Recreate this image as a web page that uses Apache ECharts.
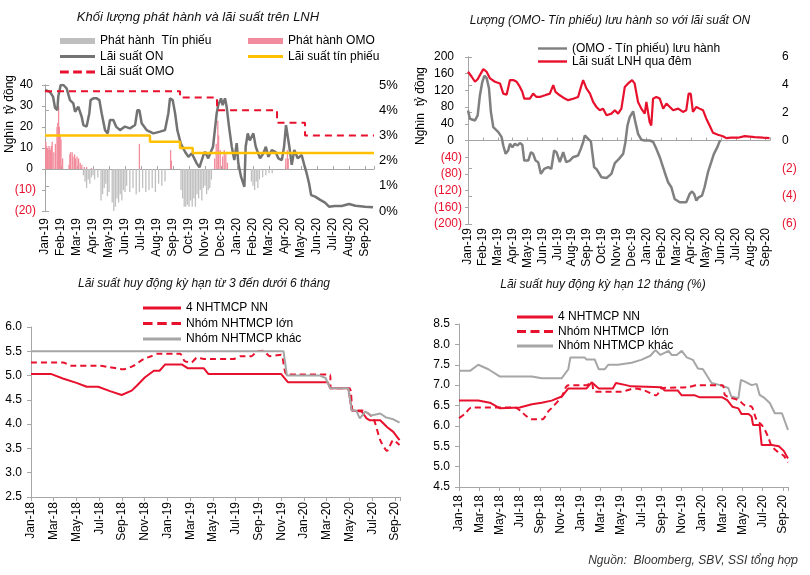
<!DOCTYPE html>
<html><head><meta charset="utf-8">
<script src="https://cdn.jsdelivr.net/npm/echarts/dist/echarts.min.js"></script>
<style>html,body{margin:0;padding:0;background:#fff}#c{width:810px;height:575px}</style>
</head><body><div id="c"></div><script>
// ---------- tick labels ----------
var months19 = ['Jan-19','Feb-19','Mar-19','Apr-19','May-19','Jun-19','Jul-19','Aug-19','Sep-19','Oct-19','Nov-19','Dec-19','Jan-20','Feb-20','Mar-20','Apr-20','May-20','Jun-20','Jul-20','Aug-20','Sep-20'];
var months18 = ['Jan-18','Feb-18','Mar-18','Apr-18','May-18','Jun-18','Jul-18','Aug-18','Sep-18','Oct-18','Nov-18','Dec-18','Jan-19','Feb-19','Mar-19','Apr-19','May-19','Jun-19','Jul-19','Aug-19','Sep-19','Oct-19','Nov-19','Dec-19','Jan-20','Feb-20','Mar-20','Apr-20','May-20','Jun-20','Jul-20','Aug-20','Sep-20'];

// ---------- panel 1 (x = months since Jan-19) ----------
var omoIssue = [[0.05,13],[0.1,11],[0.15,10],[0.2,9],[0.25,11],[0.3,10],[0.35,9],[0.4,11],[0.45,13],[0.55,8],[0.65,12],[0.75,20],[0.8,22],[0.85,30],[0.9,20],[0.95,16],[1.0,14],[1.1,5],[1.5,2],[1.55,7],[1.6,8],[1.7,8],[1.75,6],[1.85,7],[1.9,5],[2.0,6],[2.1,5],[2.2,3],[2.3,2],[2.45,1],[2.6,1],[2.9,0.5],[5.9,12],[7.85,9],[7.9,4],[10.6,5],[10.7,12],[10.8,23],[10.85,16],[10.95,9],[11.1,6],[11.2,9],[11.3,7],[11.4,3],[15.05,5],[15.15,9],[15.2,5]];
var billIssue = [[2.4,-3],[2.5,-6],[2.6,-9],[2.7,-5],[2.8,-7],[2.9,-4],[3.0,-3],[3.1,-5],[3.3,-4],[3.5,-15],[3.6,-12],[3.7,-9],[3.8,-7],[3.9,-13],[4.0,-11],[4.2,-16],[4.3,-20],[4.4,-18],[4.5,-14],[4.6,-16],[4.7,-12],[4.8,-15],[4.9,-10],[5.0,-11],[5.1,-8],[5.3,-11],[5.5,-9],[5.7,-12],[5.9,-11],[6.1,-9],[6.3,-11],[6.5,-10],[6.7,-9],[6.9,-11],[7.1,-7],[7.3,-8],[7.5,-6],[8.5,-10],[8.6,-14],[8.7,-18],[8.8,-18],[8.9,-17],[9.0,-18],[9.1,-15],[9.2,-18],[9.3,-14],[9.4,-18],[9.5,-12],[9.6,-14],[9.7,-10],[9.8,-15],[9.9,-9],[10.0,-8],[10.1,-12],[10.2,-10],[10.3,-9],[10.4,-5],[12.9,-6],[13.0,-8],[13.1,-10],[13.2,-6],[13.3,-9],[13.4,-5],[13.6,-4],[13.8,-3],[14.0,-2],[14.2,-2]];
var onRate1 = [[0,4.8],[0.06,4.8],[0.3,4.73],[0.5,4.54],[0.63,4.09],[0.77,4.0],[0.83,4.54],[0.98,5.0],[1.15,5.0],[1.35,4.87],[1.56,4.4],[1.77,4.27],[1.88,3.94],[2.08,4.14],[2.29,3.74],[2.4,3.41],[2.6,3.35],[2.77,3.88],[2.85,4.4],[3.02,4.47],[3.23,4.47],[3.4,4.4],[3.54,3.88],[3.75,3.21],[3.92,3.08],[4.06,3.61],[4.27,3.61],[4.44,3.35],[4.69,3.21],[5.0,3.35],[5.31,3.28],[5.63,3.41],[5.77,4.0],[5.9,4.0],[6.04,3.48],[6.35,3.21],[6.77,3.08],[7.19,3.15],[7.5,3.21],[7.71,3.88],[7.81,4.47],[7.98,4.4],[8.13,3.88],[8.27,3.21],[8.48,2.69],[8.75,2.35],[8.96,2.15],[9.17,2.29],[9.48,1.89],[9.65,1.73],[9.9,2.22],[10.0,2.35],[10.2,2.09],[10.5,2.55],[10.73,3.88],[10.83,4.21],[11.0,4.47],[11.1,4.2],[11.25,4.47],[11.35,4.14],[11.5,3.35],[11.67,2.55],[11.83,2.02],[11.98,2.69],[12.08,1.89],[12.25,1.36],[12.46,0.96],[12.54,2.55],[12.67,3.08],[12.8,2.8],[13.02,3.08],[13.17,2.55],[13.44,2.09],[13.65,2.29],[13.8,2.55],[13.96,2.15],[14.17,2.42],[14.4,2.35],[14.58,2.09],[14.8,2.02],[14.94,2.55],[15.06,3.41],[15.17,3.35],[15.27,2.55],[15.42,1.83],[15.58,2.42],[15.79,2.09],[16.04,2.22],[16.2,1.83],[16.35,1.5],[16.5,1.1],[16.63,0.63],[16.88,0.57],[17.2,0.44],[17.5,0.33],[17.75,0.17],[18.1,0.2],[18.54,0.2],[19.0,0.28],[19.4,0.21],[20.0,0.17],[20.5,0.15]];
var billRate = [[0,3.0],[6.56,3.0],[6.56,2.75],[8.44,2.75],[8.44,2.5],[9.23,2.5],[9.23,2.3],[20.56,2.3]];
var omoRate = [[0,4.75],[8.44,4.75],[8.44,4.5],[10.75,4.5],[10.75,4.0],[14.5,4.0],[14.5,3.5],[16.25,3.5],[16.25,3.0],[20.56,3.0]];

// ---------- panel 2 (x = months since Jan-19) ----------
var omoNet = [[0,72],[0.13,52],[0.47,48],[0.65,60],[0.8,108],[0.96,140],[1.1,155],[1.25,150],[1.41,125],[1.54,68],[1.7,32],[2.04,20],[2.26,8],[2.37,-12],[2.53,-32],[2.7,-24],[2.82,-8],[2.98,-16],[3.15,-8],[3.33,-12],[3.49,-6],[3.65,-10],[3.78,-48],[4.05,-48],[4.23,-28],[4.38,-32],[4.54,-48],[4.72,-52],[4.9,-80],[5.12,-68],[5.39,-64],[5.6,-68],[5.79,-24],[5.95,-28],[6.17,-52],[6.4,-28],[6.6,-52],[6.84,-48],[7.06,-40],[7.4,-36],[7.58,-20],[7.74,-4],[7.85,12],[8.08,4],[8.26,-2],[8.48,-64],[8.63,-68],[8.97,-88],[9.31,-90],[9.64,-80],[9.87,-54],[10.15,-44],[10.43,-32],[10.58,-4],[10.72,36],[10.87,56],[11.1,70],[11.25,44],[11.43,16],[11.65,2],[11.88,0],[12.21,0],[12.44,-3],[12.66,-20],[12.89,-40],[13.22,-76],[13.45,-100],[13.67,-112],[13.89,-140],[14.23,-148],[14.67,-148],[14.9,-128],[15.06,-122],[15.2,-128],[15.35,-144],[15.5,-136],[15.73,-132],[15.9,-112],[16.13,-76],[16.35,-52],[16.53,-32],[16.76,-16],[16.91,-2],[17.0,0]];
var onRate2 = [[0,4.94],[0.25,4.58],[0.47,4.22],[0.65,4.4],[0.8,4.7],[1.03,5.13],[1.25,4.94],[1.48,4.46],[1.81,4.22],[2.15,4.1],[2.37,3.37],[2.6,3.3],[2.82,4.34],[3.04,4.34],[3.27,4.22],[3.49,3.85],[3.65,3.5],[3.78,3.01],[4.16,3.01],[4.38,3.37],[4.6,3.13],[4.83,3.13],[5.17,3.25],[5.5,3.37],[5.73,3.98],[5.88,3.5],[6.17,3.25],[6.51,3.01],[6.73,2.9],[7.07,3.0],[7.4,3.13],[7.63,3.98],[7.74,4.34],[7.96,3.74],[8.2,3.37],[8.41,2.77],[8.63,2.41],[8.86,2.17],[9.08,2.29],[9.31,1.81],[9.64,1.93],[9.87,2.17],[10.09,1.93],[10.31,2.29],[10.54,3.85],[10.76,4.1],[11.03,4.34],[11.2,4.1],[11.43,2.77],[11.65,2.29],[11.88,1.93],[11.99,2.77],[12.21,1.33],[12.32,1.08],[12.44,3.01],[12.66,3.13],[12.89,3.01],[13.12,2.29],[13.34,2.65],[13.57,2.41],[13.79,2.17],[14.13,2.29],[14.45,2.05],[14.67,2.17],[14.83,3.37],[14.97,3.37],[15.12,2.05],[15.35,2.41],[15.57,2.29],[15.8,2.17],[16.02,1.57],[16.24,1.08],[16.47,0.55],[16.8,0.41],[17.14,0.31],[17.36,0.17],[17.7,0.2],[18.15,0.2],[18.6,0.31],[19.27,0.24],[19.83,0.2],[20.27,0.17]];

// ---------- panel 3 (x = months since Jan-18) ----------
var dep3NN = [[0,5.03],[1.8,5.03],[2.8,4.94],[4.0,4.85],[4.9,4.77],[5.9,4.77],[6.95,4.68],[7.97,4.6],[8.85,4.69],[9.3,4.79],[10.0,4.96],[10.8,5.1],[11.3,5.1],[11.8,5.23],[13.25,5.23],[13.8,5.15],[15.2,5.15],[15.6,5.03],[22.0,5.03],[22.6,4.86],[26.1,4.86],[26.3,4.74],[27.9,4.74],[28.2,4.28],[29.07,4.26],[29.5,4.12],[29.8,4.08],[30.7,4.08],[31.3,3.94],[31.85,3.84],[32.4,3.67]];
var dep3Large = [[0,5.27],[2.8,5.27],[3.6,5.2],[6.1,5.2],[6.95,5.17],[8.1,5.13],[9.0,5.2],[9.9,5.34],[10.6,5.4],[11.05,5.45],[13.1,5.45],[13.5,5.3],[14.1,5.27],[14.6,5.37],[15.2,5.34],[17.8,5.34],[18.4,5.4],[19.4,5.4],[19.85,5.5],[20.4,5.51],[21.0,5.4],[22.0,5.43],[22.5,5.02],[26.3,5.02],[26.35,4.74],[28.0,4.74],[28.3,4.28],[29.07,4.28],[29.4,4.26],[30.1,4.12],[30.7,3.67],[31.3,3.45],[31.85,3.67],[32.4,3.57]];
var dep3Other = [[0,5.5],[22.2,5.5],[22.5,5.0],[25.4,5.0],[25.9,4.95],[26.3,4.74],[27.9,4.74],[28.2,4.28],[28.6,4.28],[28.9,4.12],[29.4,4.26],[29.9,4.18],[30.7,4.22],[31.2,4.14],[31.85,4.1],[32.4,4.03]];

// ---------- panel 4 (x = months since Jan-18) ----------
var dep12NN = [[0,6.62],[1.9,6.62],[3.05,6.57],[4.05,6.43],[6.0,6.45],[7.2,6.53],[8.17,6.57],[9.15,6.62],[10.15,6.72],[10.8,6.92],[12.6,6.92],[13.1,7.07],[13.8,6.92],[15.2,6.92],[15.5,7.05],[16.5,7.0],[17.0,6.97],[20.0,6.95],[20.3,6.87],[21.6,6.87],[22.0,6.75],[23.3,6.75],[23.8,6.7],[26.0,6.7],[26.5,6.63],[27.0,6.47],[27.6,6.43],[27.9,6.29],[28.6,6.29],[28.9,6.23],[29.05,6.02],[29.7,6.02],[29.9,5.53],[30.9,5.53],[31.6,5.5],[32.1,5.38],[32.5,5.2]];
var dep12Large = [[0,6.19],[0.6,6.3],[1.25,6.45],[5.5,6.45],[6.2,6.34],[6.55,6.26],[7.2,6.16],[8.2,6.16],[8.8,6.35],[9.2,6.45],[10.15,6.72],[10.8,7.0],[12.6,7.0],[13.1,7.07],[13.4,6.84],[16.0,6.84],[17.4,6.92],[18.3,6.87],[19.5,6.75],[20.0,6.92],[22.6,6.95],[23.6,7.0],[26.0,7.0],[26.3,6.75],[27.6,6.63],[28.2,6.51],[28.9,6.47],[29.05,6.4],[29.4,6.15],[30.0,5.99],[30.5,5.75],[30.9,5.5],[31.4,5.38],[32.1,5.26],[32.5,5.1]];
var dep12Other = [[0,7.35],[1.09,7.35],[1.9,7.5],[2.9,7.39],[4.05,7.21],[7.2,7.21],[8.17,7.17],[10.15,7.17],[10.8,7.39],[11.0,7.68],[12.4,7.68],[12.6,7.63],[13.4,7.63],[13.8,7.39],[14.4,7.39],[14.75,7.5],[15.7,7.5],[17.05,7.55],[18.0,7.62],[18.9,7.72],[19.4,7.86],[19.9,7.74],[20.7,7.84],[21.0,7.74],[21.5,7.74],[22.0,7.84],[22.5,7.68],[23.1,7.62],[23.6,7.41],[24.1,7.39],[24.95,7.05],[25.8,7.0],[26.6,6.93],[26.9,6.72],[27.6,6.68],[27.85,7.13],[28.2,7.09],[28.9,7.0],[29.4,7.03],[29.7,6.76],[30.2,6.68],[30.7,6.56],[31.2,6.31],[31.9,6.31],[32.5,5.9]];

// ---------- styling ----------
var FONT = 'Liberation Sans, Arial, sans-serif';
var RED = '#E8112D', AXIS = '#A6A6A6';
var SOLID = 'path://M0,0H36V3H0Z';
var DASHED = 'path://M0,0H9V3H0Z M13.5,0H22.5V3H13.5Z M27,0H36V3H27Z';

function paren(v){ return v < 0 ? '{n|(' + (-v) + ')}' : '{p|' + v + '}'; }

function monthAxis(grid, labels, max, interval, margin, zeroLine){
  return {
    type: 'value', gridIndex: grid, min: 0, max: max, interval: interval,
    splitLine: {show: false},
    axisLine: {show: !zeroLine, onZero: false, lineStyle: {color: AXIS, width: 1}},
    axisTick: {show: !zeroLine, length: 4, lineStyle: {color: AXIS}},
    axisLabel: {show: true, rotate: 90, margin: margin, fontFamily: FONT, fontSize: 12, color: '#000',
      showMinLabel: true, showMaxLabel: true,
      formatter: function(v){ var r = Math.round(v); return Math.abs(r - v) < 1e-6 && labels[r] ? labels[r] : ''; }}
  };
}
function zeroAxis(grid, max, interval, yIdx){
  return {
    type: 'value', gridIndex: grid, min: 0, max: max, interval: interval, position: 'bottom',
    splitLine: {show: false},
    axisLine: {show: true, onZero: true, onZeroAxisIndex: yIdx, lineStyle: {color: AXIS, width: 1}},
    axisTick: {show: true, inside: true, length: 3, lineStyle: {color: AXIS}},
    axisLabel: {show: false}
  };
}
function legendText(lh){ return {fontFamily: FONT, fontSize: 12, color: '#000', lineHeight: lh}; }

var option = {
  animation: false,
  backgroundColor: '#fff',
  textStyle: {fontFamily: FONT},
  grid: [
    {left: 45, top: 85, width: 329, height: 126, outerBoundsMode: 'none'},
    {left: 468, top: 57, width: 302, height: 167, outerBoundsMode: 'none'},
    {left: 31, top: 327, width: 369, height: 170, outerBoundsMode: 'none'},
    {left: 459, top: 324, width: 329, height: 163, outerBoundsMode: 'none'}
  ],
  xAxis: [
    monthAxis(0, months19, 20.56, 1, 7, true),
    zeroAxis(0, 20.56, 1, 0),
    monthAxis(1, months19, 20.3, 1, 4, true),
    zeroAxis(1, 20.3, 1, 2),
    monthAxis(2, months18, 32.44, 2, 5, false),
    monthAxis(3, months18, 32.5, 2, 8, false)
  ],
  yAxis: [
    {type: 'value', gridIndex: 0, min: -20, max: 40, interval: 10, position: 'left',
     splitLine: {show: false},
     axisLine: {show: true, lineStyle: {color: AXIS}}, axisTick: {show: true, length: 3, lineStyle: {color: AXIS}},
     axisLabel: {margin: 9, fontFamily: FONT, fontSize: 12, formatter: paren,
       rich: {n: {color: RED, fontFamily: FONT, fontSize: 12}, p: {color: '#000', fontFamily: FONT, fontSize: 12, padding: [0, 3, 0, 0]}}}},
    {type: 'value', gridIndex: 0, min: 0, max: 5, interval: 1, position: 'right',
     splitLine: {show: false},
     axisLine: {show: true, lineStyle: {color: AXIS}}, axisTick: {show: true, length: 4, lineStyle: {color: AXIS}},
     axisLabel: {margin: 5, fontFamily: FONT, fontSize: 13, color: '#000', formatter: '{value}%'}},
    {type: 'value', gridIndex: 1, min: -200, max: 200, interval: 40, position: 'left',
     splitLine: {show: false},
     axisLine: {show: true, lineStyle: {color: AXIS}}, axisTick: {show: true, length: 3, lineStyle: {color: AXIS}},
     axisLabel: {margin: 6, fontFamily: FONT, fontSize: 12, formatter: paren,
       rich: {n: {color: RED, fontFamily: FONT, fontSize: 12}, p: {color: '#000', fontFamily: FONT, fontSize: 12, padding: [0, 8, 0, 0]}}}},
    {type: 'value', gridIndex: 1, min: -6, max: 6, interval: 2, position: 'right',
     splitLine: {show: false},
     axisLine: {show: true, lineStyle: {color: AXIS}}, axisTick: {show: true, length: 4, lineStyle: {color: AXIS}},
     axisLabel: {margin: 12, fontFamily: FONT, fontSize: 12, formatter: paren,
       rich: {n: {color: RED, fontFamily: FONT, fontSize: 12}, p: {color: '#000', fontFamily: FONT, fontSize: 12}}}},
    {type: 'value', gridIndex: 2, min: 2.5, max: 6.0, interval: 0.5,
     splitLine: {show: false},
     axisLine: {show: true, lineStyle: {color: AXIS}}, axisTick: {show: true, length: 4, lineStyle: {color: AXIS}},
     axisLabel: {margin: 9, fontFamily: FONT, fontSize: 12, color: '#000', formatter: function(v){ return v.toFixed(1); }}},
    {type: 'value', gridIndex: 3, min: 4.5, max: 8.5, interval: 0.5,
     splitLine: {show: false},
     axisLine: {show: true, lineStyle: {color: AXIS}}, axisTick: {show: true, length: 4, lineStyle: {color: AXIS}},
     axisLabel: {margin: 9, fontFamily: FONT, fontSize: 12, color: '#000', formatter: function(v){ return v.toFixed(1); }}}
  ],
  legend: [
    {left: 55, top: 29, orient: 'vertical', itemWidth: 35, itemHeight: 6, itemGap: 1.5, selectedMode: false,
     textStyle: legendText(14),
     data: [{name: 'Phát hành  Tín phiếu', icon: 'rect'}, {name: 'Lãi suất ON', icon: SOLID}, {name: 'Lãi suất OMO', icon: DASHED}]},
    {left: 243, top: 29, orient: 'vertical', itemWidth: 35, itemHeight: 6, itemGap: 1.5, selectedMode: false,
     textStyle: legendText(14),
     data: [{name: 'Phát hành OMO', icon: 'rect'}, {name: 'Lãi suất tín phiếu', icon: SOLID}]},
    {left: 533, top: 37, orient: 'vertical', itemWidth: 29, itemHeight: 6, itemGap: 0, selectedMode: false,
     textStyle: legendText(13),
     data: [{name: '(OMO - Tín phiếu) lưu hành', icon: SOLID}, {name: 'Lãi suất LNH qua đêm', icon: SOLID}]},
    {left: 138, top: 296, orient: 'vertical', itemWidth: 38, itemHeight: 6, itemGap: 1.5, selectedMode: false,
     textStyle: legendText(14),
     data: [{name: '4 NHTMCP NN', icon: SOLID}, {name: 'Nhóm NHTMCP lớn', icon: DASHED}, {name: 'Nhóm NHTMCP khác', icon: SOLID}]},
    {left: 512, top: 305, orient: 'vertical', itemWidth: 36, itemHeight: 6, itemGap: 0.5, selectedMode: false,
     textStyle: legendText(14),
     data: [{name: '4 NHTMCP NN ', icon: SOLID}, {name: 'Nhóm NHTMCP  lớn', icon: DASHED}, {name: 'Nhóm NHTMCP khác ', icon: SOLID}]}
  ],
  series: [
    // panel 1
    {name: 'Phát hành  Tín phiếu', type: 'bar', xAxisIndex: 0, yAxisIndex: 0, data: billIssue, barWidth: 1.3, barGap: '-100%',
     itemStyle: {color: '#BFBFBF'}},
    {name: 'Phát hành OMO', type: 'bar', xAxisIndex: 0, yAxisIndex: 0, data: omoIssue, barWidth: 1.3, barGap: '-100%',
     itemStyle: {color: '#F28C9C'}},
    {name: 'Lãi suất ON', type: 'line', xAxisIndex: 0, yAxisIndex: 1, data: onRate1, symbol: 'none',
     lineStyle: {color: '#737373', width: 2.5}, itemStyle: {color: '#737373'}},
    {name: 'Lãi suất tín phiếu', type: 'line', xAxisIndex: 0, yAxisIndex: 1, data: billRate, symbol: 'none',
     lineStyle: {color: '#FFC000', width: 2.5}, itemStyle: {color: '#FFC000'}},
    {name: 'Lãi suất OMO', type: 'line', xAxisIndex: 0, yAxisIndex: 1, data: omoRate, symbol: 'none',
     lineStyle: {color: RED, width: 2, type: [7, 5]}, itemStyle: {color: RED}},
    // panel 2
    {name: 'Lãi suất LNH qua đêm', type: 'line', xAxisIndex: 2, yAxisIndex: 3, data: onRate2, symbol: 'none',
     lineStyle: {color: RED, width: 2.2}, itemStyle: {color: RED}},
    {name: '(OMO - Tín phiếu) lưu hành', type: 'line', xAxisIndex: 2, yAxisIndex: 2, data: omoNet, symbol: 'none',
     lineStyle: {color: '#808080', width: 2.5}, itemStyle: {color: '#808080'}},
    // panel 3
    {name: '4 NHTMCP NN', type: 'line', xAxisIndex: 4, yAxisIndex: 4, data: dep3NN, symbol: 'none',
     lineStyle: {color: RED, width: 2}, itemStyle: {color: RED}},
    {name: 'Nhóm NHTMCP lớn', type: 'line', xAxisIndex: 4, yAxisIndex: 4, data: dep3Large, symbol: 'none', smooth: 0.2,
     lineStyle: {color: RED, width: 2, type: [6, 4]}, itemStyle: {color: RED}},
    {name: 'Nhóm NHTMCP khác', type: 'line', xAxisIndex: 4, yAxisIndex: 4, data: dep3Other, symbol: 'none',
     lineStyle: {color: '#A6A6A6', width: 2}, itemStyle: {color: '#A6A6A6'}},
    // panel 4
    {name: 'Nhóm NHTMCP khác ', type: 'line', xAxisIndex: 5, yAxisIndex: 5, data: dep12Other, symbol: 'none',
     lineStyle: {color: '#A6A6A6', width: 2}, itemStyle: {color: '#A6A6A6'}},
    {name: '4 NHTMCP NN ', type: 'line', xAxisIndex: 5, yAxisIndex: 5, data: dep12NN, symbol: 'none',
     lineStyle: {color: RED, width: 2}, itemStyle: {color: RED}},
    {name: 'Nhóm NHTMCP  lớn', type: 'line', xAxisIndex: 5, yAxisIndex: 5, data: dep12Large, symbol: 'none', smooth: 0.3,
     lineStyle: {color: RED, width: 2, type: [6, 4]}, itemStyle: {color: RED}}
  ],
  graphic: [
    {type: 'text', x: 198, y: 17, style: {text: 'Khối lượng phát hành và lãi suất trên LNH', fill: '#111', font: 'italic 13px ' + FONT, textAlign: 'center', textVerticalAlign: 'middle'}},
    {type: 'text', x: 610, y: 21, style: {text: 'Lượng (OMO- Tín phiếu) lưu hành so với lãi suất ON', fill: '#111', font: 'italic 12px ' + FONT, textAlign: 'center', textVerticalAlign: 'middle'}},
    {type: 'text', x: 204, y: 284, style: {text: 'Lãi suất huy động kỳ hạn từ 3 đến dưới 6 tháng', fill: '#111', font: 'italic 12px ' + FONT, textAlign: 'center', textVerticalAlign: 'middle'}},
    {type: 'text', x: 603, y: 285, style: {text: 'Lãi suất huy động kỳ hạn 12 tháng (%)', fill: '#111', font: 'italic 12px ' + FONT, textAlign: 'center', textVerticalAlign: 'middle'}},
    {type: 'text', x: 798, y: 561, style: {text: 'Nguồn:  Bloomberg, SBV, SSI tổng hợp', fill: '#333', font: 'italic 12px ' + FONT, textAlign: 'right', textVerticalAlign: 'middle'}},
    {type: 'text', x: 10, y: 114, rotation: Math.PI / 2, style: {text: 'Nghìn  tỷ đồng', fill: '#000', font: '12px ' + FONT, textAlign: 'center', textVerticalAlign: 'middle'}},
    {type: 'text', x: 421, y: 106, rotation: Math.PI / 2, style: {text: 'Nghìn  tỷ đồng', fill: '#000', font: '12px ' + FONT, textAlign: 'center', textVerticalAlign: 'middle'}}
  ]
};
var chart = echarts.init(document.getElementById('c'), null, {renderer: 'canvas', width: 810, height: 575});
chart.setOption(option);
</script></body></html>
